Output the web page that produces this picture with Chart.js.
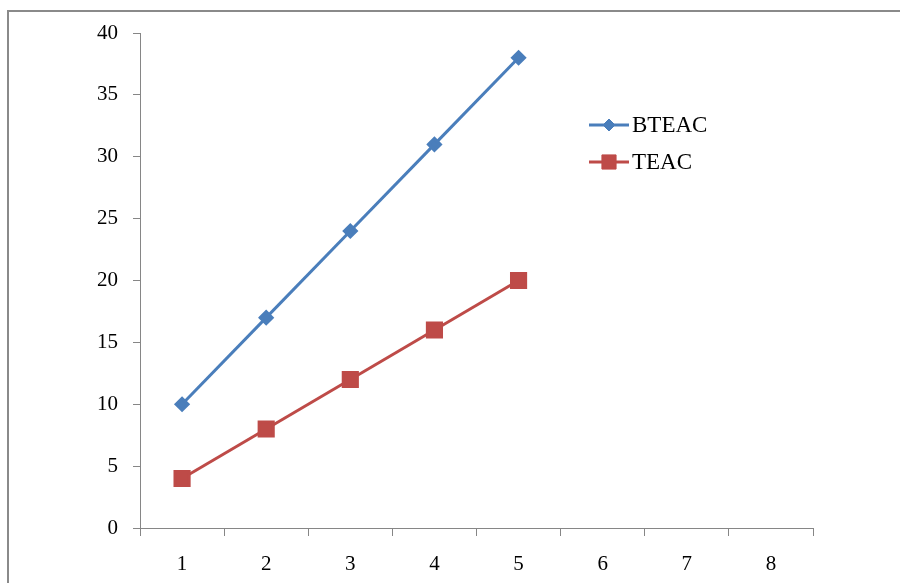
<!DOCTYPE html>
<html>
<head>
<meta charset="utf-8">
<script src="https://cdn.jsdelivr.net/npm/chart.js@4"></script>
<style>
    html, body { margin: 0; padding: 0; background: #fff; }
    #wrap { position: relative; width: 900px; height: 583px; }
    #frame {
        position: absolute; left: 7px; top: 10px; right: 0; bottom: 0;
        border-left: 2px solid #8a8a8a; border-top: 2px solid #8a8a8a;
        pointer-events: none;
    }
</style>
</head>
<body>
<div id="wrap">
    <canvas id="chart" width="900" height="583"></canvas>
    <div id="frame"></div>
</div>
<script>
const categories = ['1', '2', '3', '4', '5', '6', '7', '8'];
const bteac = [10, 17, 24, 31, 38, null, null, null];
const teac = [4, 8, 12, 16, 20, null, null, null];
const yTicks = [0, 5, 10, 15, 20, 25, 30, 35, 40];

(function () {
    document.addEventListener('DOMContentLoaded', function () {
        const axisGray = '#868686';
        const font = { family: '"Liberation Serif", "Times New Roman", serif', size: 21 };

        // legend drawn inside the plot, to the right of the lines
        const innerLegend = {
            id: 'innerLegend',
            afterDraw(chart) {
                const ctx = chart.ctx;
                const x0 = 589, y0 = 125, rowGap = 37, lineLen = 40;
                chart.data.datasets.forEach((ds, i) => {
                    const y = y0 + i * rowGap;
                    ctx.save();
                    ctx.strokeStyle = ds.borderColor;
                    ctx.lineWidth = ds.borderWidth;
                    ctx.beginPath();
                    ctx.moveTo(x0, y);
                    ctx.lineTo(x0 + lineLen, y);
                    ctx.stroke();
                    ctx.fillStyle = ds.pointBackgroundColor;
                    ctx.strokeStyle = ds.pointBorderColor;
                    ctx.lineWidth = 1;
                    Chart.helpers.drawPoint(ctx, {
                        pointStyle: ds.pointStyle,
                        radius: ds.pointRadius,
                        rotation: 0,
                        borderWidth: 1
                    }, x0 + lineLen / 2, y);
                    ctx.fillStyle = '#000';
                    ctx.font = '23px ' + font.family;
                    ctx.textBaseline = 'middle';
                    ctx.fillText(ds.label, x0 + lineLen + 3, y + 1);
                    ctx.restore();
                });
            }
        };

        const ctx = document.getElementById('chart').getContext('2d');
        new Chart(ctx, {
            type: 'line',
            data: {
                labels: categories,
                datasets: [
                    {
                        label: 'BTEAC',
                        data: bteac,
                        borderColor: '#4a7ebb',
                        backgroundColor: '#4a7ebb',
                        pointBackgroundColor: '#4a7ebb',
                        pointBorderColor: '#4a7ebb',
                        borderWidth: 3,
                        pointStyle: 'rectRot',
                        pointRadius: 6,
                        tension: 0,
                        fill: false
                    },
                    {
                        label: 'TEAC',
                        data: teac,
                        borderColor: '#be4b48',
                        backgroundColor: '#be4b48',
                        pointBackgroundColor: '#be4b48',
                        pointBorderColor: '#be4b48',
                        borderWidth: 3,
                        pointStyle: 'rect',
                        pointRadius: 10,
                        tension: 0,
                        fill: false
                    }
                ]
            },
            options: {
                responsive: false,
                animation: false,
                layout: {
                    padding: { top: 33, right: 87, bottom: 0, left: 0 }
                },
                plugins: {
                    legend: { display: false },
                    tooltip: { enabled: false }
                },
                scales: {
                    x: {
                        offset: true,
                        afterFit: scale => {
                            scale.height = 55;
                            scale.paddingLeft = 0;
                            scale.paddingRight = 0;
                        },
                        grid: {
                            offset: true,
                            drawOnChartArea: false,
                            drawTicks: true,
                            tickLength: 8,
                            color: axisGray
                        },
                        border: { display: true, color: axisGray, width: 1 },
                        ticks: {
                            color: '#000',
                            font: font,
                            padding: 16,
                            maxRotation: 0
                        }
                    },
                    y: {
                        min: 0,
                        max: 40,
                        afterFit: scale => {
                            scale.width = 140;
                            scale.paddingTop = 0;
                            scale.paddingBottom = 0;
                        },
                        afterBuildTicks: scale => {
                            scale.ticks = yTicks.map(v => ({ value: v }));
                        },
                        grid: {
                            drawOnChartArea: false,
                            drawTicks: true,
                            tickLength: 7,
                            color: axisGray
                        },
                        border: { display: true, color: axisGray, width: 1 },
                        ticks: {
                            color: '#000',
                            font: font,
                            padding: 15
                        }
                    }
                }
            },
            plugins: [innerLegend]
        });
    });
})();
</script>
</body>
</html>
